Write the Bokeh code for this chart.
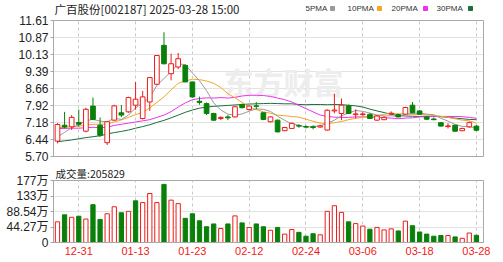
from bokeh.plotting import figure
from bokeh.layouts import column
from bokeh.models import (FixedTicker, Label, Range1d, ColumnDataSource, Title, LinearAxis,
                          Span, BoxAnnotation)
from bokeh.embed import file_html
from bokeh.resources import INLINE

dates = ["12-26", "12-27", "12-30", "12-31", "01-02", "01-03", "01-06", "01-07", "01-08", "01-09",
         "01-10", "01-13", "01-14", "01-15", "01-16", "01-17", "01-20", "01-21", "01-22", "01-23",
         "01-24", "01-27", "02-05", "02-06", "02-07", "02-10", "02-11", "02-12", "02-13", "02-14",
         "02-17", "02-18", "02-19", "02-20", "02-21", "02-24", "02-25", "02-26", "02-27", "02-28",
         "03-03", "03-04", "03-05", "03-06", "03-07", "03-10", "03-11", "03-12", "03-13", "03-14",
         "03-17", "03-18", "03-19", "03-20", "03-21", "03-24", "03-25", "03-26", "03-27", "03-28"]

opens = [6.37, 7.06, 6.99, 7.18, 6.80, 7.89, 7.06, 6.30, 7.28, 7.60,
         7.64, 7.93, 7.35, 8.07, 8.84, 10.53, 9.30, 9.59, 9.66, 8.94,
         8.10, 8.00, 7.57, 7.35, 7.42, 7.42, 7.96, 7.74, 7.90, 7.60,
         7.21, 7.28, 6.82, 6.92, 7.04, 7.00, 6.99, 6.98, 6.85, 7.68,
         7.57, 7.90, 7.52, 7.52, 7.53, 7.28, 7.30, 7.55, 7.52, 7.54,
         7.93, 7.68, 7.42, 7.33, 7.17, 7.00, 7.06, 6.82, 6.99, 7.02]
highs = [7.15, 7.64, 7.50, 7.74, 7.82, 8.26, 7.40, 7.25, 7.95, 7.94,
         8.30, 8.94, 8.55, 9.13, 10.10, 11.10, 10.17, 10.20, 9.70, 8.94,
         8.30, 8.05, 7.60, 7.45, 7.50, 7.90, 8.00, 7.92, 8.07, 7.62,
         7.45, 7.30, 6.98, 7.18, 7.10, 7.05, 7.05, 7.08, 7.75, 8.43,
         8.22, 7.95, 7.75, 7.62, 7.58, 7.50, 7.45, 7.66, 7.56, 7.86,
         8.07, 7.72, 7.45, 7.40, 7.20, 7.15, 7.08, 6.95, 7.22, 7.06]
lows = [6.27, 6.92, 6.85, 6.99, 6.75, 7.28, 6.55, 6.20, 7.25, 7.41,
        7.60, 7.73, 7.31, 7.68, 8.80, 9.70, 9.01, 9.50, 8.94, 8.25,
        7.95, 7.50, 7.25, 7.28, 7.28, 7.40, 7.79, 7.70, 7.75, 7.28,
        7.18, 6.75, 6.80, 6.90, 6.95, 6.92, 6.88, 6.95, 6.83, 7.58,
        7.28, 7.55, 7.35, 7.45, 7.33, 7.25, 7.28, 7.50, 7.40, 7.52,
        7.58, 7.52, 7.30, 7.28, 7.00, 6.92, 6.78, 6.80, 6.95, 6.80]
closes = [7.09, 6.98, 7.40, 7.10, 7.75, 7.31, 6.62, 7.21, 7.90, 7.50,
          8.26, 8.19, 8.29, 9.13, 10.09, 9.73, 9.73, 9.95, 8.94, 8.29,
          8.05, 7.57, 7.28, 7.40, 7.38, 7.86, 7.82, 7.89, 7.88, 7.31,
          7.42, 6.77, 6.96, 7.14, 7.02, 6.98, 6.96, 7.03, 7.71, 7.72,
          7.93, 7.57, 7.55, 7.55, 7.35, 7.46, 7.40, 7.58, 7.42, 7.83,
          7.60, 7.54, 7.32, 7.30, 7.02, 7.03, 6.80, 6.92, 7.17, 6.84]

# volume in 万 (10k)
volumes = [59, 79, 72, 75, 67, 108, 66, 82, 102, 85,
           89, 119, 114, 140, 114, 166, 121, 111, 69, 82,
           62, 45, 53, 40, 53, 76, 56, 43, 53, 45,
           35, 43, 24, 37, 29, 18, 25, 22, 89, 105,
           86, 59, 54, 47, 38, 43, 36, 39, 33, 61,
           48, 30, 24, 18, 20, 20, 16, 12, 27, 20.58]
vol_up = [1, 0, 1, 0, 1, 0, 0, 1, 1, 0,
          1, 0, 1, 1, 1, 0, 1, 1, 0, 0,
          0, 0, 0, 1, 0, 1, 0, 1, 0, 0,
          1, 0, 1, 1, 0, 0, 0, 1, 1, 1,
          1, 0, 1, 1, 0, 1, 1, 1, 0, 1,
          0, 0, 0, 0, 0, 1, 0, 1, 1, 0]

ma5 = [6.55, 6.75, 6.95, 7.08, 7.26, 7.31, 7.24, 7.20, 7.36, 7.31,
       7.50, 7.81, 8.03, 8.27, 8.79, 9.09, 9.39, 9.73, 9.69, 9.33,
       8.99, 8.56, 8.03, 7.72, 7.54, 7.50, 7.55, 7.67, 7.77, 7.75,
       7.66, 7.45, 7.27, 7.12, 7.06, 6.97, 7.01, 7.03, 7.14, 7.28,
       7.47, 7.59, 7.70, 7.66, 7.59, 7.50, 7.46, 7.47, 7.44, 7.54,
       7.57, 7.59, 7.54, 7.52, 7.36, 7.24, 7.09, 7.01, 6.99, 6.95]
ma10 = [6.95, 6.97, 7.00, 7.02, 7.06, 7.10, 7.10, 7.12, 7.20, 7.29,
        7.40, 7.52, 7.61, 7.82, 8.05, 8.29, 8.60, 8.88, 8.98, 9.06,
        9.04, 8.98, 8.88, 8.70, 8.43, 8.25, 8.05, 7.85, 7.74, 7.64,
        7.58, 7.50, 7.47, 7.44, 7.41, 7.32, 7.23, 7.15, 7.13, 7.17,
        7.22, 7.30, 7.36, 7.40, 7.44, 7.48, 7.53, 7.58, 7.55, 7.56,
        7.53, 7.53, 7.51, 7.48, 7.45, 7.40, 7.34, 7.28, 7.25, 7.15]
ma20 = [6.92, 6.92, 6.93, 6.93, 6.95, 6.97, 6.95, 6.97, 7.05, 7.10,
        7.15, 7.20, 7.25, 7.30, 7.40, 7.50, 7.65, 7.85, 8.03, 8.17,
        8.22, 8.25, 8.24, 8.26, 8.24, 8.27, 8.33, 8.36, 8.36, 8.35,
        8.31, 8.24, 8.17, 8.07, 7.92, 7.78, 7.64, 7.50, 7.44, 7.41,
        7.40, 7.40, 7.42, 7.42, 7.42, 7.40, 7.38, 7.37, 7.34, 7.37,
        7.38, 7.42, 7.43, 7.44, 7.44, 7.44, 7.44, 7.43, 7.40, 7.36]
ma30 = [6.34, 6.38, 6.42, 6.47, 6.52, 6.56, 6.60, 6.68, 6.74, 6.79,
        6.85, 6.93, 7.00, 7.08, 7.18, 7.27, 7.38, 7.50, 7.62, 7.72,
        7.80, 7.85, 7.88, 7.90, 7.92, 7.94, 7.96, 7.98, 7.99, 8.00,
        8.01, 8.00, 7.99, 7.99, 7.96, 7.95, 7.96, 7.96, 7.95, 7.96,
        7.95, 7.93, 7.90, 7.85, 7.76, 7.68, 7.61, 7.53, 7.48, 7.46,
        7.45, 7.44, 7.45, 7.44, 7.43, 7.40, 7.37, 7.34, 7.31, 7.30]

price_ticks = [5.70, 6.43875, 7.1775, 7.91625, 8.655, 9.39375, 10.1325, 10.87125, 11.61]
price_tick_labels = ["5.70", "6.44", "7.18", "7.92", "8.66", "9.39", "10.13", "10.87", "11.61"]
vol_ticks = [0, 44.27, 88.54, 132.81, 177.08]
vol_tick_labels = ["0", "44.27万", "88.54万", "133万", "177万"]
date_tick_labels = ["12-31", "01-13", "01-23", "02-12", "02-24", "03-06", "03-18", "03-28"]
title_text = "广百股份[002187] 2025-03-28 15:00"
vol_title = "成交量:205829"
ma_names = ["5PMA", "10PMA", "20PMA", "30PMA"]

RED = "#F01A1A"
GREEN = "#0A800A"
MA_COLORS = ["#9A9A9A", "#F5A623", "#F030F0", "#1E6E3C"]
FRAME = "#A8A8A8"
GRID = "#E2E2E2"
VGRID = "#C8C8C8"
NUM_FONT = "Liberation Sans, Noto Sans CJK SC"
CJK_FONT = "Noto Sans CJK SC"

n = len(dates)
xs = list(range(n))
tick_idx = [dates.index(d) for d in date_tick_labels]

W = 503
LEFT, RIGHT, FW = 53, 20, 430
HEAD = 20              # band above the price box (title + legend), inside the frame
P_FH, P_BB = 136, 7    # price box height, bottom border
V_BT, V_FH = 14, 65
P_H = HEAD + P_FH + P_BB
V_H = 262 - P_H

PMIN, PMAX = 5.70, 11.61
PPX = (PMAX - PMIN) / P_FH          # price per pixel
PTOP = PMAX + HEAD * PPX            # range top so the box starts HEAD px below the top

XL, XRt = -0.56, 60.0
x_range = Range1d(XL, XRt)


def px2x(px):
    return XL + (px - LEFT) / FW * (XRt - XL)


def px2y(py):
    return PTOP - py * PPX


# ---------- price panel ----------
up = [c >= o for o, c in zip(opens, closes)]
src = ColumnDataSource(dict(
    x=xs, o=opens, h=highs, l=lows, c=closes,
    top=[max(o, c) for o, c in zip(opens, closes)],
    bot=[min(o, c) if abs(o - c) > 0.005 else min(o, c) - 0.004 for o, c in zip(opens, closes)],
    col=[RED if u else GREEN for u in up],
    fill=["white" if u else GREEN for u in up],
))

p = figure(width=W, height=P_H, x_range=x_range, y_range=Range1d(PMIN, PTOP),
           output_backend="svg", toolbar_location=None,
           min_border_left=LEFT, min_border_right=RIGHT,
           min_border_top=0, min_border_bottom=P_BB)
p.background_fill_color = "white"
p.border_fill_color = "white"
p.outline_line_color = None

p.yaxis.ticker = FixedTicker(ticks=price_ticks)
p.yaxis.bounds = (PMIN, PMAX)
p.yaxis.major_label_overrides = {t: s for t, s in zip(price_ticks, price_tick_labels)}
p.yaxis.minor_tick_line_color = None
p.yaxis.major_tick_out = 3
p.yaxis.major_tick_in = 0
p.yaxis.major_label_standoff = 2
p.yaxis.axis_line_color = FRAME
p.yaxis.major_tick_line_color = FRAME
p.yaxis.major_label_text_font = NUM_FONT
p.yaxis.major_label_text_font_size = "12px"
p.yaxis.major_label_text_color = "#222222"

p.xaxis.ticker = FixedTicker(ticks=[])
p.xaxis.axis_line_color = FRAME
p.xaxis.major_tick_line_color = None
p.xaxis.minor_tick_line_color = None

rax = LinearAxis(ticker=FixedTicker(ticks=[]), bounds=(PMIN, PMAX), axis_line_color=FRAME,
                 major_tick_line_color=None, minor_tick_line_color=None)
p.add_layout(rax, "right")

p.ygrid.grid_line_color = GRID
p.xgrid.ticker = FixedTicker(ticks=tick_idx)
p.xgrid.grid_line_color = VGRID
p.xgrid.grid_line_dash = "3 3"

# white band hides the grid above the price box
p.add_layout(BoxAnnotation(bottom=PMAX, fill_color="white", fill_alpha=1, line_alpha=0,
                           level="underlay"))
p.add_layout(Span(location=PMAX, dimension="width", line_color=FRAME, line_width=1))

wm = Label(x=px2x(283), y=px2y(HEAD + 60), text="东方财富", text_align="center",
           text_baseline="middle", text_font=CJK_FONT, text_font_size="30px",
           text_font_style="bold", text_color="#EDEDED", level="underlay")
p.add_layout(wm)

for vals, colr in zip([ma30, ma20, ma10, ma5], MA_COLORS[::-1]):
    p.line(xs, vals, line_color=colr, line_width=1)

p.segment(x0="x", y0="l", x1="x", y1="h", line_color="col", line_width=1, source=src)
p.vbar(x="x", width=0.66, top="top", bottom="bot", fill_color="fill", line_color="col",
       line_width=1, source=src)

# title and MA legend in the band above the box
p.add_layout(Label(x=px2x(54), y=px2y(8.5), text=title_text, text_baseline="middle",
                   text_font=CJK_FONT, text_font_size="11.5px", text_color="#222222"))
leg_text_px = [305, 347, 391, 436]
leg_mark_px = [332, 379, 425, 470]
for name, tx in zip(ma_names, leg_text_px):
    p.add_layout(Label(x=px2x(tx), y=px2y(8), text=name, text_baseline="middle",
                       text_font="Liberation Sans", text_font_size="8px", text_color="#333333"))
p.rect(x=[px2x(m) for m in leg_mark_px], y=[px2y(8)] * 4, width=4, height=4,
       width_units="screen", height_units="screen", fill_color=MA_COLORS,
       line_color=MA_COLORS)

# ---------- volume panel ----------
vsrc = ColumnDataSource(dict(
    x=xs, v=volumes,
    col=[RED if u else GREEN for u in vol_up],
    fill=["white" if u else GREEN for u in vol_up],
))
v = figure(width=W, height=V_H, x_range=x_range, y_range=Range1d(0, 177.08),
           output_backend="svg", toolbar_location=None,
           min_border_left=LEFT, min_border_right=RIGHT,
           min_border_top=V_BT, min_border_bottom=V_H - V_BT - V_FH)
v.add_layout(Title(text=vol_title, align="left", offset=2, standoff=0,
                   text_font=CJK_FONT, text_font_size="10.5px", text_font_style="normal",
                   text_color="#222222"), "above")
v.background_fill_color = "white"
v.border_fill_color = "white"
v.outline_line_color = FRAME
v.yaxis.ticker = FixedTicker(ticks=vol_ticks)
v.yaxis.major_label_overrides = {t: s for t, s in zip(vol_ticks, vol_tick_labels)}
v.yaxis.minor_tick_line_color = None
v.yaxis.major_tick_out = 3
v.yaxis.major_tick_in = 0
v.yaxis.major_label_standoff = 2
v.yaxis.axis_line_color = FRAME
v.yaxis.major_tick_line_color = FRAME
v.yaxis.major_label_text_font = NUM_FONT
v.yaxis.major_label_text_font_size = "12px"
v.yaxis.major_label_text_color = "#222222"
v.xaxis.ticker = FixedTicker(ticks=tick_idx)
v.xaxis.major_label_overrides = {i: d for i, d in zip(tick_idx, date_tick_labels)}
v.xaxis.minor_tick_line_color = None
v.xaxis.major_tick_line_color = None
v.xaxis.major_tick_out = 0
v.xaxis.major_tick_in = 0
v.xaxis.axis_line_color = FRAME
v.xaxis.major_label_standoff = 4
v.xaxis.major_label_text_font = NUM_FONT
v.xaxis.major_label_text_font_size = "11px"
v.xaxis.major_label_text_color = RED
v.ygrid.grid_line_color = GRID
v.xgrid.grid_line_color = VGRID
v.xgrid.grid_line_dash = "3 3"

v.vbar(x="x", width=0.6, top="v", bottom=0, fill_color="fill", line_color="col",
       line_width=1, source=vsrc)

layout = column(p, v, spacing=0)
open("out.html", "w").write(file_html(layout, INLINE))
